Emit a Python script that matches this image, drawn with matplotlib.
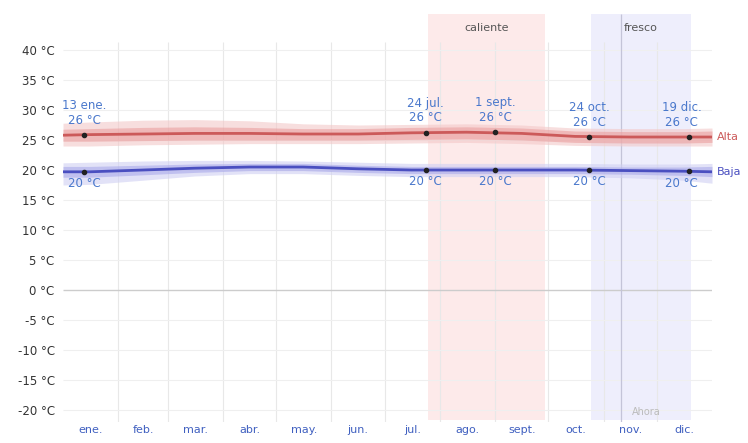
import numpy as np
import matplotlib.pyplot as plt

# days of year and read-off values (°C)
days = [0, 15, 45, 74, 105, 135, 166, 196, 227, 258, 288, 319, 349, 365]
high = [25.8, 25.9, 26.0, 26.1, 26.1, 26.0, 26.0, 26.2, 26.3, 26.1, 25.6, 25.5, 25.5, 25.5]
high_p25 = [24.8, 24.8, 24.9, 25.0, 25.0, 25.0, 25.0, 25.1, 25.2, 25.0, 24.6, 24.5, 24.5, 24.6]
high_p75 = [26.8, 26.9, 27.1, 27.2, 27.1, 26.9, 26.9, 27.1, 27.2, 27.0, 26.5, 26.4, 26.4, 26.5]
high_p10 = [24.0, 24.0, 24.2, 24.3, 24.4, 24.4, 24.4, 24.5, 24.6, 24.4, 24.1, 24.0, 24.0, 24.0]
high_p90 = [27.8, 28.0, 28.3, 28.4, 28.2, 27.7, 27.5, 27.6, 27.7, 27.5, 27.0, 26.9, 26.9, 27.0]
low = [19.7, 19.7, 20.0, 20.3, 20.5, 20.5, 20.2, 20.0, 20.0, 20.0, 20.0, 19.9, 19.8, 19.7]
low_p25 = [18.8, 18.8, 19.2, 19.6, 19.9, 19.9, 19.6, 19.4, 19.4, 19.4, 19.4, 19.3, 19.1, 18.9]
low_p75 = [20.6, 20.6, 20.8, 21.0, 21.1, 21.1, 20.8, 20.6, 20.6, 20.6, 20.6, 20.5, 20.5, 20.6]
low_p10 = [17.5, 17.6, 18.3, 19.0, 19.4, 19.4, 19.1, 18.9, 18.9, 18.9, 18.9, 18.7, 18.3, 17.8]
low_p90 = [21.2, 21.3, 21.5, 21.6, 21.6, 21.5, 21.3, 21.1, 21.1, 21.1, 21.1, 21.0, 21.0, 21.1]

months = ['ene.', 'feb.', 'mar.', 'abr.', 'may.', 'jun.', 'jul.', 'ago.', 'sept.', 'oct.', 'nov.', 'dic.']
month_len = [31, 28, 31, 30, 31, 30, 31, 31, 30, 31, 30, 31]

pt_days = [12, 204, 243, 296, 352]
pt_names = ['13 ene.', '24 jul.', '1 sept.', '24 oct.', '19 dic.']
pt_high = [25.8, 26.2, 26.3, 25.5, 25.5]
pt_low = [19.7, 20.0, 20.0, 20.0, 19.8]

hot_season = (205, 271)
cool_season = (297, 353)
now_day = 314

yticks = list(range(-20, 41, 5))

red = '#cc5a5a'
blue = '#4a4fc0'
lblue = '#4a78cc'

fig = plt.figure(figsize=(7.48, 4.43), dpi=100)
ax = fig.add_axes([63 / 748, 21 / 443, 649 / 748, 412 / 443])
ax.set_xlim(0, 365)
ax.set_ylim(-22, 46.67)
for s in ax.spines.values():
    s.set_visible(False)

# seasons
ax.axvspan(*hot_season, ymin=0.005, ymax=0.99, color='#fdeaea', zorder=0, lw=0)
ax.axvspan(*cool_season, ymin=0.005, ymax=0.99, color='#eeeefc', zorder=0, lw=0)
ax.text(np.mean(hot_season), 43.6, 'caliente', ha='center', va='center', fontsize=8, color='#555')
ax.text(np.mean(cool_season), 43.6, 'fresco', ha='center', va='center', fontsize=8, color='#555')

# grid
bounds = np.cumsum([0] + month_len)
ax.vlines(bounds[1:-1], -22, 41.3, color='#e8e8e8', lw=0.8, zorder=1)
ax.hlines([y for y in yticks if y != 0], 0, 365, color='#efefef', lw=0.8, zorder=1)
ax.hlines(0, 0, 368, color='#cccccc', lw=1.0, zorder=1)
ax.vlines(now_day, -22, 46, color='#c4c4d8', lw=0.9, zorder=1)
ax.text(now_day + 6, -20.3, 'Ahora', fontsize=7, color='#bbbbbb', ha='left', va='center')

# bands and lines
ax.fill_between(days, high_p10, high_p90, color='#f3c8c8', alpha=0.6, lw=0, zorder=2)
ax.fill_between(days, high_p25, high_p75, color='#eaa0a0', alpha=0.6, lw=0, zorder=2)
ax.plot(days, high, color=red, lw=2, zorder=3)
ax.fill_between(days, low_p10, low_p90, color='#d0d0f3', alpha=0.6, lw=0, zorder=2)
ax.fill_between(days, low_p25, low_p75, color='#aaaaea', alpha=0.6, lw=0, zorder=2)
ax.plot(days, low, color=blue, lw=2, zorder=3)

ax.scatter(pt_days, pt_high, s=9, color='#222', zorder=4)
ax.scatter(pt_days, pt_low, s=9, color='#222', zorder=4)
for d, n, h, l in zip(pt_days, pt_names, pt_high, pt_low):
    dx = -4 if d > 340 else 0
    ax.text(d + dx, h + 1.4, f'{n}\n{round(h)} °C', ha='center', va='bottom',
            fontsize=8.5, color=lblue, linespacing=1.15)
    ax.text(d + dx, l - 0.9, f'{round(l)} °C', ha='center', va='top', fontsize=8.5, color=lblue)

ax.text(368, high[-1], 'Alta', color=red, fontsize=8, va='center', ha='left', clip_on=False)
ax.text(368, low[-1], 'Baja', color=blue, fontsize=8, va='center', ha='left', clip_on=False)

# axes labels
ax.set_yticks(yticks)
ax.set_yticklabels([f'{y} °C' for y in yticks], fontsize=8.5, color='#333')
centers = bounds[:-1] + np.array(month_len) / 2
ax.set_xticks(centers)
ax.set_xticklabels(months, fontsize=8, color='#4060c0')
ax.tick_params(length=0, pad=6)
ax.tick_params(axis='x', pad=2)

fig.savefig('out.png', dpi=100)
